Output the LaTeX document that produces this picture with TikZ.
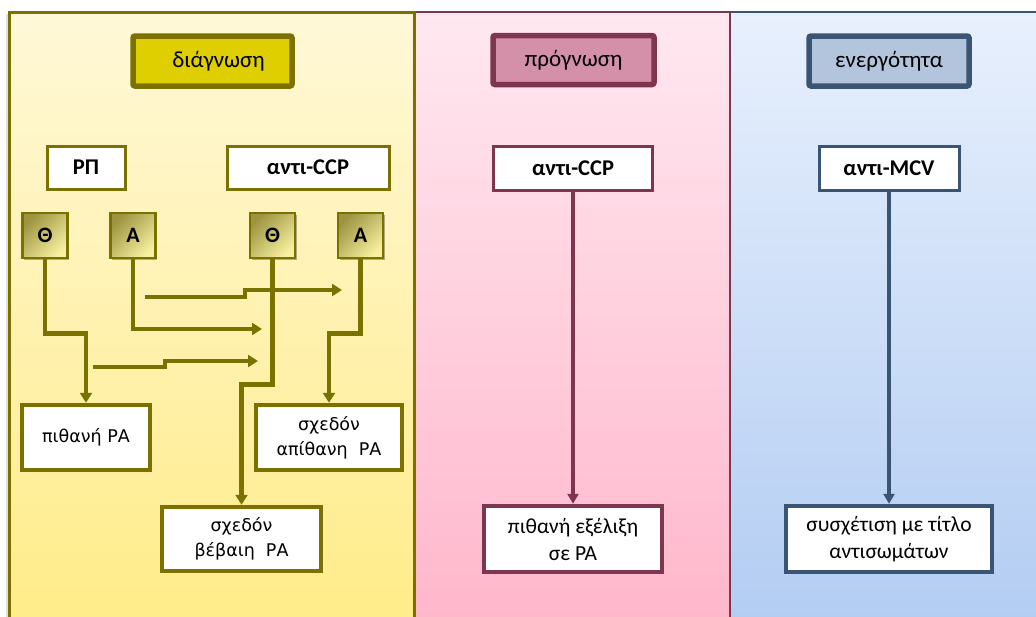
\documentclass[tikz,border=0pt]{standalone}
\usepackage{fontspec}
\setmainfont{Carlito}
\newfontfamily\verd{DejaVu Sans}
\usetikzlibrary{arrows.meta,shadows}
\definecolor{olv}{HTML}{7A7100}
\definecolor{hOne}{HTML}{E0CF00}
\definecolor{pnk}{HTML}{7E3550}
\definecolor{hTwo}{HTML}{D490A8}
\definecolor{blu}{HTML}{3A5474}
\definecolor{hThree}{HTML}{B2C5DD}
\definecolor{pOneTop}{HTML}{FFF8D8}
\definecolor{pOneBot}{HTML}{FFEC88}
\definecolor{pTwoTop}{HTML}{FFE8F0}
\definecolor{pTwoBot}{HTML}{FFB6CB}
\definecolor{pThrTop}{HTML}{E8F0FD}
\definecolor{pThrBot}{HTML}{B2CCF2}
\definecolor{sqDark}{HTML}{9E9440}
\definecolor{sqLight}{HTML}{F6F0A0}
\tikzset{
  shd/.style={drop shadow={shadow xshift=1.5pt,shadow yshift=-1.5pt,opacity=0.3,fill=black}},
  hdr/.style={draw,line width=5.5pt,rounded corners=2pt,inner sep=0pt,shd,
    font=\fontsize{23}{26}\selectfont},
  topbox/.style={draw,fill=white,line width=3pt,inner sep=0pt,shd,
    font=\bfseries\fontsize{22.5}{26}\selectfont},
  sq/.style={draw=olv,line width=2.5pt,inner sep=0pt,minimum width=45pt,minimum height=45pt,
    top color=sqDark,bottom color=sqLight,shading angle=45,shd,
    font=\bfseries\fontsize{22}{26}\selectfont},
  lowbox/.style={draw=olv,fill=white,line width=4.5pt,inner sep=0pt,shd,align=center,
    font=\verd\fontsize{17.5}{25}\selectfont},
  rbox/.style={fill=white,line width=4.5pt,inner sep=0pt,shd,align=center,
    font=\fontsize{21.5}{27}\selectfont},
  oarr/.style={draw=olv,line width=4.5pt,-{Triangle[length=10pt,width=12pt]}},
  parr/.style={draw=pnk,line width=3.5pt,-{Triangle[length=10pt,width=11pt]}},
  barr/.style={draw=blu,line width=3.5pt,-{Triangle[length=10pt,width=11pt]}},
}
\begin{document}
\begin{tikzpicture}[x=1pt,y=-1pt]
\useasboundingbox (0,0) rectangle (1036,616);
\begin{scope}
\clip (0,0) rectangle (1036,616);
% panels
\fill[black,opacity=0.12] (6,14) rectangle (414,630);
\shade[top color=pThrTop,bottom color=pThrBot] (730,12) rectangle (1045,630);
\draw[blu,line width=2.5pt] (730,630) -- (730,12) -- (1045,12);
\shade[top color=pTwoTop,bottom color=pTwoBot] (414,12) rectangle (730,630);
\draw[pnk,line width=2.5pt] (414,630) -- (414,12) -- (730,12) -- (730,630);
\shade[top color=pOneTop,bottom color=pOneBot] (9,12) rectangle (414,630);
\draw[olv,line width=3pt] (9,630) -- (9,12) -- (414,12) -- (414,630);
\end{scope}

% headers
\node[hdr,draw=olv,fill=hOne,minimum width=159pt,minimum height=50pt] (h1) at (212.5,61) {\hspace{12pt}διάγνωση};
\node[hdr,draw=pnk,fill=hTwo,minimum width=161pt,minimum height=49pt] (h2) at (573.5,60) {πρόγνωση};
\node[hdr,draw=blu,fill=hThree,minimum width=160pt,minimum height=50pt] (h3) at (889,61) {ενεργότητα};

% left panel
\node[topbox,draw=olv,minimum width=78pt,minimum height=43pt] (rp) at (86,167.5) {ΡΠ};
\node[topbox,draw=olv,minimum width=162pt,minimum height=43pt] (cc1) at (308,167.5) {αντι-CCP};
\node[sq] (t1) at (45,235.5) {Θ};
\node[sq] (a1) at (133,235.5) {A};
\node[sq] (t2) at (272.5,235.5) {Θ};
\node[sq] (a2) at (360.5,235.5) {A};

\node[lowbox,minimum width=128pt,minimum height=65pt] (p1) at (86,437.5) {πιθανή ΡΑ};
\node[lowbox,minimum width=146pt,minimum height=65pt] (b1) at (329,437.5) {σχεδόν\\απίθανη \ ΡΑ};
\node[lowbox,minimum width=159pt,minimum height=64pt] (b2) at (241.5,539) {σχεδόν\\βέβαιη \ ΡΑ};

\coordinate (aA) at (262,329);
\coordinate (f1s) at (145,297);
\coordinate (f1e) at (342,290);
\coordinate (f2s) at (93,367);
\coordinate (f2e) at (258,361);

\draw[oarr] (t1.south) -- ++(0,74) -| (p1.north);
\draw[oarr] (a1.south) |- (aA);
\draw[oarr] (f1s) -- ++(100,0) |- (f1e);
\draw[oarr] (f2s) -- ++(72,0) |- (f2e);
\draw[oarr] (t2.south) -- ++(0,125) -| (b2.north);
\draw[oarr] (a2.south) -- ++(0,74) -| (b1.north);

% middle panel
\node[topbox,draw=pnk,minimum width=159pt,minimum height=44pt] (cc2) at (573,168) {αντι-CCP};
\node[rbox,draw=pnk,minimum width=178pt,minimum height=66pt] (pe) at (573,539) {πιθανή εξέλιξη\\σε ΡΑ};
\draw[parr] (cc2.south) -- (pe.north);

% right panel
\node[topbox,draw=blu,minimum width=140pt,minimum height=44pt] (mcv) at (889,168) {αντι-MCV};
\node[rbox,draw=blu,minimum width=206pt,minimum height=66pt] (bs) at (889,539) {συσχέτιση με τίτλο\\αντισωμάτων};
\draw[barr] (mcv.south) -- (bs.north);
\end{tikzpicture}
\end{document}
